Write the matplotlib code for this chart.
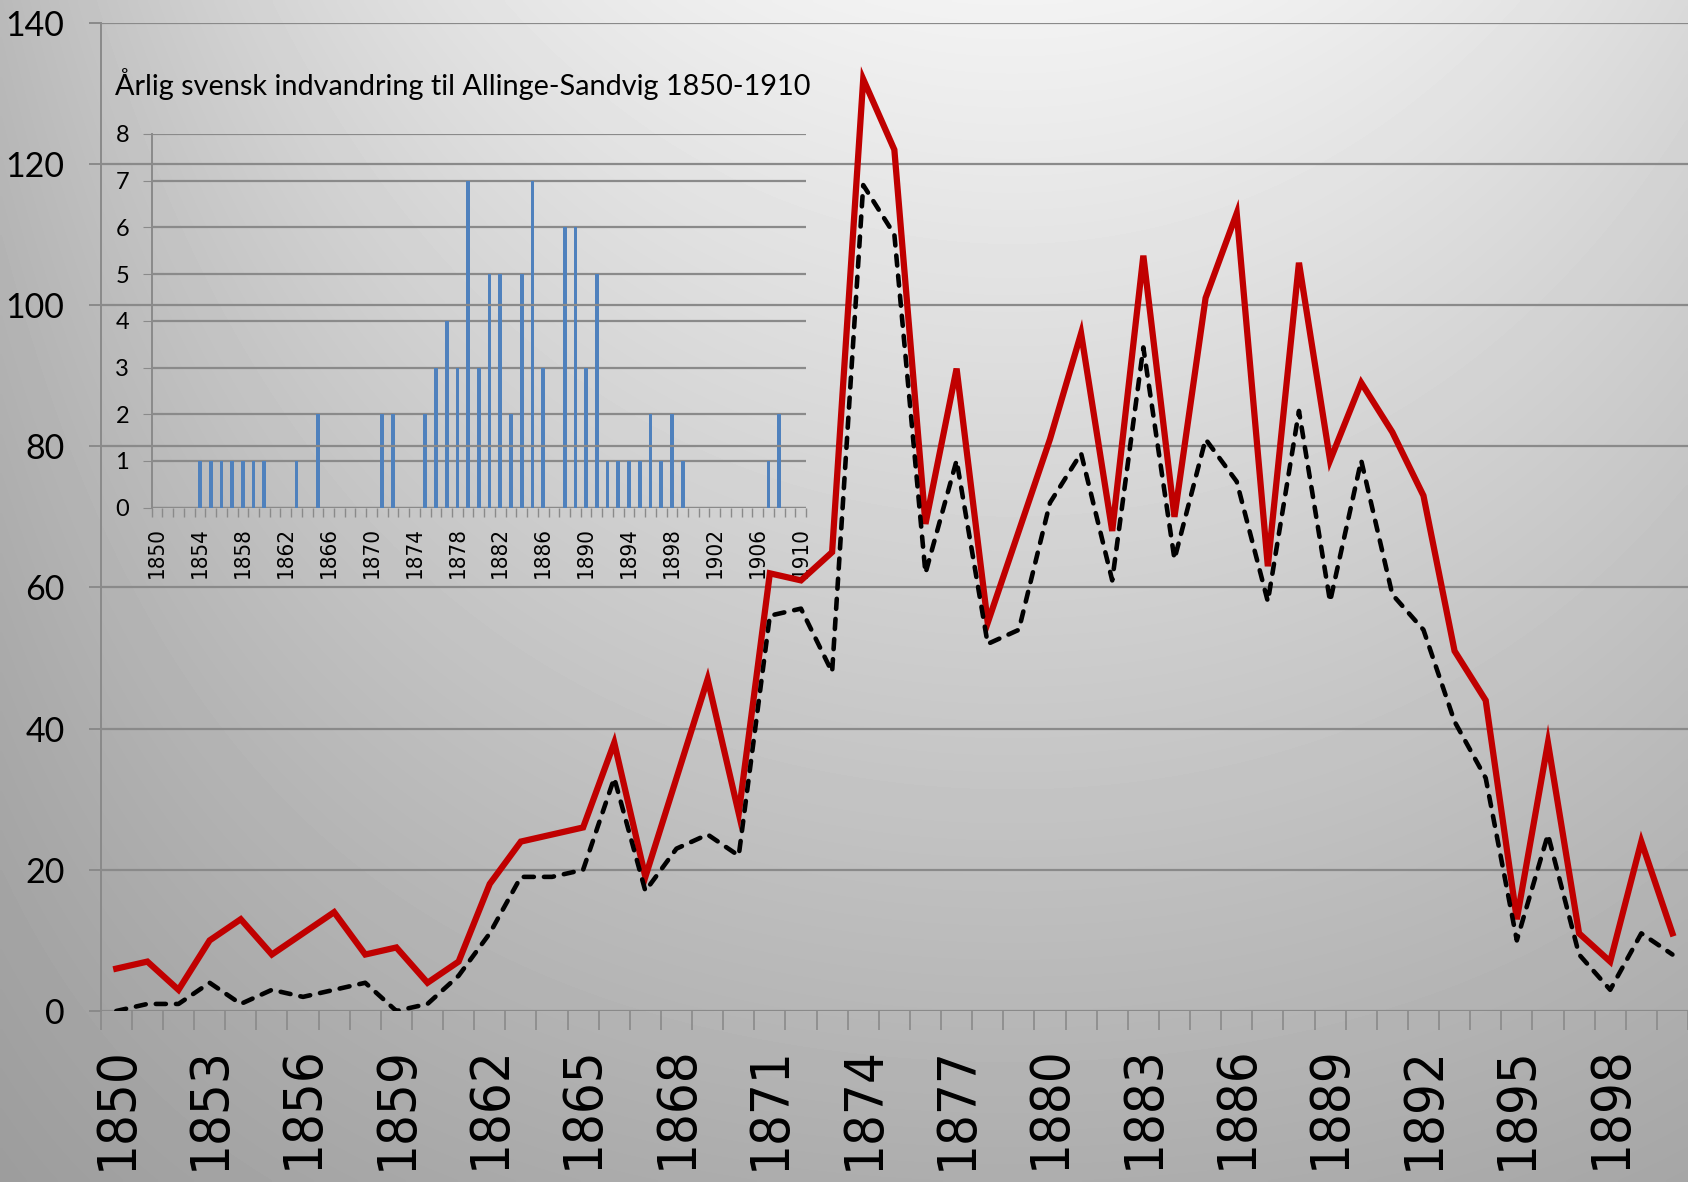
import numpy as np
import matplotlib
matplotlib.use("Agg")
import matplotlib.pyplot as plt
from matplotlib import font_manager as fm

# main chart: 1850-1900 (the picture is cut just after 1899)
years = list(range(1850, 1901))
total = [6, 7, 3, 10, 13, 8, 11, 14, 8, 9,
         4, 7, 18, 24, 25, 26, 38, 19, 33, 47,
         28, 62, 61, 65, 132, 122, 69, 91, 55, 68,
         81, 96, 68, 107, 70, 101, 113, 63, 106, 78,
         89, 82, 73, 51, 44, 13, 38, 11, 7, 24,
         11]
other = [0, 1, 1, 4, 1, 3, 2, 3, 4, 0,
         1, 5, 11, 19, 19, 20, 33, 17, 23, 25,
         22, 56, 57, 48, 117, 110, 62, 78, 52, 54,
         72, 79, 61, 94, 64, 81, 75, 58, 85, 58,
         78, 59, 54, 41, 33, 10, 25, 8, 3, 11,
         8]

# inset: yearly swedish immigration 1850-1910
inset_years = list(range(1850, 1911))
swedes = {1854: 1, 1855: 1, 1856: 1, 1857: 1, 1858: 1, 1859: 1, 1860: 1,
          1863: 1, 1865: 2, 1871: 2, 1872: 2, 1875: 2, 1876: 3, 1877: 4,
          1878: 3, 1879: 7, 1880: 3, 1881: 5, 1882: 5, 1883: 2, 1884: 5,
          1885: 7, 1886: 3, 1888: 6, 1889: 6, 1890: 3, 1891: 5, 1892: 1,
          1893: 1, 1894: 1, 1895: 1, 1896: 2, 1897: 1, 1898: 2, 1899: 1,
          1907: 1, 1908: 2}
inset_vals = [swedes.get(y, 0) for y in inset_years]
inset_title = "Årlig svensk indvandring til Allinge-Sandvig 1850-1910"

# condensed DejaVu for the year labels if it is there
cond = any("DejaVuSansCondensed" in f.fname for f in fm.fontManager.ttflist)
year_stretch = "condensed" if cond else "normal"
big_size = 39 if cond else 35
small_size = 16 if cond else 14.5

W, H = 1688, 1182
fig = plt.figure(figsize=(W / 100, H / 100), dpi=100)

# gray gradient background
bg = fig.add_axes([0, 0, 1, 1], zorder=0)
xx, yy = np.meshgrid(np.linspace(0, 1, 400), np.linspace(0, 1, 300))
dx = (xx - 0.6) / 0.6
grad = 0.95 - 0.27 * yy - 0.22 * dx ** 2 * (1 - 0.7 * yy)
bg.imshow(grad, cmap="gray", vmin=0, vmax=1, aspect="auto",
          extent=[0, 1, 1, 0], interpolation="bilinear")
bg.axis("off")

grid_c = "#8a8a8a"

# ---- inset bar chart
ins = fig.add_axes([151.7 / W, 1 - 507.6 / H, (806 - 151.7) / W, (507.6 - 134) / H],
                   zorder=1)
ins.patch.set_alpha(0)
xi = np.arange(len(inset_years))
ins.bar(xi, inset_vals, width=0.35, color="#4f81bd", zorder=3)
ins.set_xlim(-0.5, len(inset_years) - 0.5)
ins.set_ylim(0, 8)
ins.set_yticks(range(0, 9))
ins.yaxis.grid(True, color=grid_c, lw=1.6)
ins.set_axisbelow(True)
for s in ["top", "right", "bottom"]:
    ins.spines[s].set_visible(False)
ins.spines["left"].set_color(grid_c)
ins.spines["left"].set_linewidth(1.4)
ins.axhline(0, color=grid_c, lw=1.6, zorder=2)
ins.set_xticks(np.arange(len(inset_years) + 1) - 0.5)
ins.set_xticklabels([])
ins.tick_params(axis="x", which="major", length=6.5, color=grid_c, width=1)
lab_pos = [i for i, y in enumerate(inset_years) if (y - 1850) % 4 == 0]
ins.set_xticks(lab_pos, [str(inset_years[i]) for i in lab_pos], minor=True)
ins.tick_params(axis="x", which="minor", length=0, pad=14, labelsize=small_size,
                rotation=90)
for t in ins.get_xticklabels(minor=True):
    t.set_fontfamily("DejaVu Sans")
    t.set_fontstretch(year_stretch)
ins.tick_params(axis="y", length=6.3, color=grid_c, pad=10, labelsize=17)
for t in ins.get_yticklabels():
    t.set_fontfamily("Lato")

fig.text(115 / W, 1 - 84 / H, inset_title, ha="left", va="center",
         fontsize=20.8, family="Lato", color="black")

# ---- main line chart
ax = fig.add_axes([100.7 / W, 1 - 1011 / H, 1 - 100.7 / W, (1011 - 22.7) / H],
                  zorder=2)
ax.patch.set_alpha(0)
x = np.arange(len(years))
ax.plot(x, total, color="#c00000", lw=4.5, solid_joinstyle="miter", zorder=3)
ax.plot(x, other, color="black", lw=3.3, dashes=(2.2, 2.2),
        dash_capstyle="round", zorder=4)

ax.set_xlim(-0.5, -0.5 + (W - 100.7) / 31.36)
ax.set_ylim(0, 140)
ax.set_yticks(range(0, 141, 20))
ax.yaxis.grid(True, color=grid_c, lw=1.6)
ax.set_axisbelow(True)
for s in ["top", "right", "bottom"]:
    ax.spines[s].set_visible(False)
ax.spines["left"].set_color(grid_c)
ax.spines["left"].set_linewidth(1.4)
ax.tick_params(axis="y", length=9, color=grid_c, width=1.4, pad=17,
               labelsize=24.5)
for t in ax.get_yticklabels():
    t.set_fontfamily("Lato")

ax.set_xticks(np.arange(len(years) + 1) - 0.5)
ax.set_xticklabels([])
ax.tick_params(axis="x", which="major", length=14, color=grid_c, width=1.2)
main_lab = [i for i, y in enumerate(years) if (y - 1850) % 3 == 0 and y < 1900]
ax.set_xticks(main_lab, [str(years[i]) for i in main_lab], minor=True)
ax.tick_params(axis="x", which="minor", length=0, pad=25, labelsize=big_size,
               rotation=90)
for t in ax.get_xticklabels(minor=True):
    t.set_fontfamily("DejaVu Sans")
    t.set_fontstretch(year_stretch)

fig.savefig("out.png", dpi=100)
